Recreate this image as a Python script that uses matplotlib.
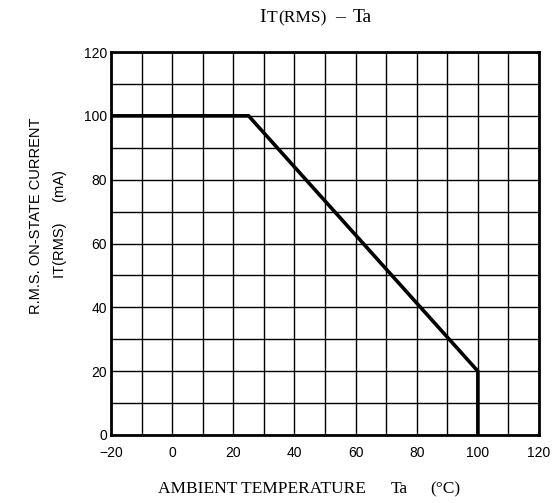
import matplotlib
matplotlib.use("Agg")
from matplotlib import pyplot as plt
import numpy as np

# derating curve: ambient temperature (degC) vs allowed RMS on-state current (mA)
ta = [-20, 25, 100, 100]
it_rms = [100, 100, 20, 0]

x_ticks = [-20, 0, 20, 40, 60, 80, 100, 120]
y_ticks = [0, 20, 40, 60, 80, 100, 120]

W, H = 552, 503
fig = plt.figure(figsize=(W / 100, H / 100), dpi=100)
ax = fig.add_axes([111 / W, 1 - 435 / H, 428 / W, 383 / H])

ax.set_xlim(-20, 120)
ax.set_ylim(0, 120)
ax.set_xticks(x_ticks)
ax.set_yticks(y_ticks)
ax.set_xticks(np.arange(-20, 121, 10), minor=True)
ax.set_yticks(np.arange(0, 121, 10), minor=True)
ax.grid(True, which="both", color="black", linewidth=1.0)
ax.tick_params(which="both", length=0, labelsize=10)
ax.tick_params(axis="x", pad=8)
ax.tick_params(axis="y", pad=3)
ax.set_xticklabels(["\u221220" if t < 0 else str(t) for t in x_ticks])
for lab in ax.get_xticklabels() + ax.get_yticklabels():
    lab.set_fontfamily("Liberation Sans")
for s in ax.spines.values():
    s.set_linewidth(2.0)

ax.plot(ta, it_rms, color="black", linewidth=2.6, solid_joinstyle="miter")

serif = "Liberation Serif"
sans = "Liberation Sans"

def px(x, y):
    # pixel position (from top-left) -> figure fraction
    return x / W, 1 - y / H

# title  I_T(RMS) - Ta
yb = 22
fig.text(*px(259, yb), "I", fontsize=14, family=serif, va="baseline")
fig.text(*px(267, yb), "T", fontsize=12.5, family=serif, va="baseline")
fig.text(*px(278, yb), "(RMS)", fontsize=12.5, family=serif, va="baseline")
fig.text(*px(335, yb), "\u2013", fontsize=14, family=serif, va="baseline")
fig.text(*px(353, yb), "Ta", fontsize=14, family=serif, va="baseline")

# x axis title
yb = 493
fig.text(*px(158, yb), "AMBIENT TEMPERATURE", fontsize=12.5, family=serif, va="baseline")
fig.text(*px(391, yb), "Ta", fontsize=12.5, family=serif, va="baseline")
fig.text(*px(430, yb), "(\u00b0C)", fontsize=12.5, family=serif, va="baseline")

# y axis title, two rotated lines
fig.text(*px(36, 216), "R.M.S. ON-STATE CURRENT", fontsize=10.5, family=sans,
         rotation=90, ha="center", va="center")
fig.text(*px(60, 170), "IT(RMS)     (mA)", fontsize=10.5, family=sans,
         rotation=90, ha="center", va="top")

fig.savefig("out.png", dpi=100)
